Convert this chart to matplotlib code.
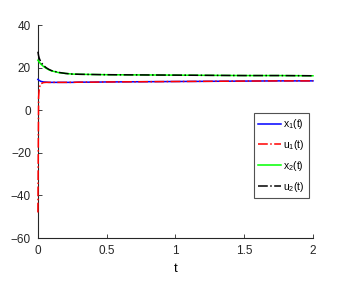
import matplotlib
matplotlib.use('Agg')
import matplotlib.pyplot as plt
import numpy as np

# Values
t = [0, 0.005, 0.01, 0.02, 0.04, 0.06, 0.08, 0.1, 0.15, 0.2, 0.25, 0.3,
     0.4, 0.5, 0.75, 1.0, 1.25, 1.5, 1.75, 2.0]
x1 = [14.5, 14.2, 14.0, 13.6, 13.3, 13.2, 13.1, 13.1, 13.1, 13.1, 13.1, 13.2,
      13.2, 13.3, 13.4, 13.5, 13.6, 13.7, 13.8, 13.8]
u1 = [-48.0, 6.0, 10.5, 12.4, 13.0, 13.1, 13.1, 13.1, 13.1, 13.1, 13.1, 13.2,
      13.2, 13.3, 13.4, 13.5, 13.6, 13.7, 13.8, 13.8]
x2 = [23.5, 23.1, 22.6, 21.8, 20.6, 19.7, 19.0, 18.5, 17.7, 17.3, 17.0, 16.9,
      16.8, 16.7, 16.6, 16.5, 16.4, 16.3, 16.3, 16.2]
u2 = [27.5, 25.6, 24.4, 22.8, 21.1, 20.0, 19.2, 18.6, 17.8, 17.3, 17.0, 16.9,
      16.8, 16.7, 16.6, 16.5, 16.4, 16.3, 16.3, 16.2]

xticks = [0, 0.5, 1, 1.5, 2]
yticks = [-60, -40, -20, 0, 20, 40]

plt.rcParams['font.family'] = ['Liberation Sans', 'DejaVu Sans']
plt.rcParams['mathtext.fontset'] = 'custom'
plt.rcParams['mathtext.rm'] = 'Liberation Sans'
plt.rcParams['mathtext.it'] = 'Liberation Sans'

fig = plt.figure(figsize=(3.61, 2.82), dpi=100)
ax = fig.add_axes([0.105, 0.156, 0.762, 0.755])

ax.plot(t, x1, color='#0000ff', lw=1.1, label='x$_1$(t)', clip_on=False, zorder=3)
ax.plot(t, u1, color='#ff0000', lw=1.1, ls='-.', label='u$_1$(t)', clip_on=False, zorder=3)
ax.plot(t, x2, color='#00ff00', lw=1.1, label='x$_2$(t)', clip_on=False, zorder=3)
ax.plot(t, u2, color='#000000', lw=1.1, ls='-.', label='u$_2$(t)', clip_on=False, zorder=3)

ax.set_xlim(0, 2)
ax.set_ylim(-60, 40)
ax.set_xticks(xticks)
ax.set_xticklabels(['0', '0.5', '1', '1.5', '2'])
ax.set_yticks(yticks)
ax.set_xlabel('t', fontsize=9.5, labelpad=4)

for side in ['top', 'right']:
    ax.spines[side].set_visible(False)
for side in ['left', 'bottom']:
    ax.spines[side].set_color('#262626')
    ax.spines[side].set_linewidth(0.8)
ax.tick_params(direction='in', length=3, width=0.6, color='#262626',
               labelsize=8.5, labelcolor='#262626', pad=5)

leg = ax.legend(loc='upper left', bbox_to_anchor=(0.785, 0.587), fontsize=7.5,
                frameon=True, fancybox=False, edgecolor='#262626',
                handlelength=2.2, handletextpad=0.2, borderpad=0.4,
                labelspacing=0.65, borderaxespad=0)
leg.get_frame().set_linewidth(0.8)
leg.set_zorder(5)

fig.savefig('out.png', dpi=100)
